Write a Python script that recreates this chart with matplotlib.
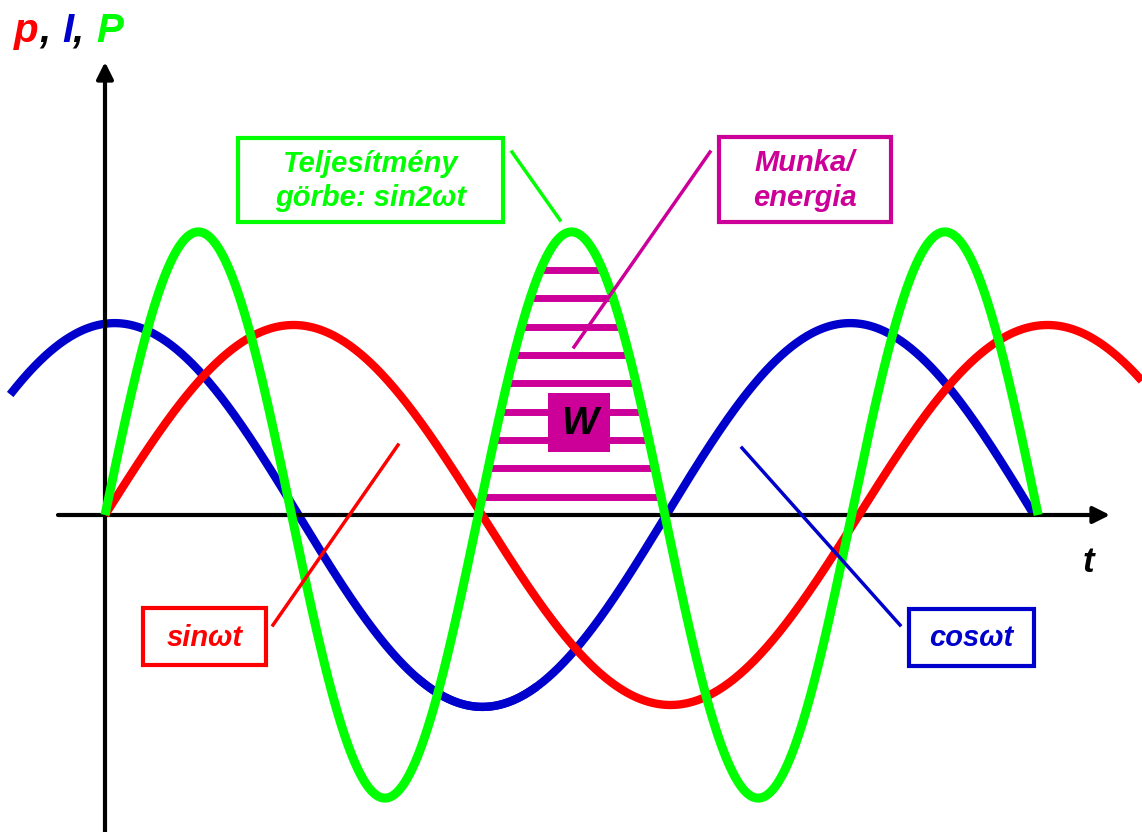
import numpy as np
import matplotlib
matplotlib.use("Agg")
from matplotlib import pyplot as plt
from matplotlib.patches import Rectangle

# figure size in pixels
W, H = 1142, 832

# curve parameters (omega*t in radians, amplitude units)
red_amp = 1.0
blue_amp = 1.01
blue_freq = 1.025
blue_phase = 0.08
green_amp = 1.49
green_freq = 2.02

red_range = (0.0, 8.64)
blue_range = (-0.79, 7.74)
green_range = (0.0, 5 * np.pi / green_freq)

# levels of the magenta "work" stripes
stripe_levels = [0.096, 0.247, 0.395, 0.544, 0.695, 0.842, 0.991, 1.14, 1.289]

RED = "#ff0000"
BLUE = "#0000cc"
GREEN = "#00ff00"
MAGENTA = "#cc0099"
FONT = dict(family="Liberation Sans", weight="bold", style="italic")

# pixel -> data scale
PX_X = 120.0
PX_Y = 190.0
X0, Y0 = 105, 515


def fx(x):
    return x / W


def fy(y):
    return 1 - y / H


def dx(x):
    return (x - X0) / PX_X


def dy(y):
    return (Y0 - y) / PX_Y


fig = plt.figure(figsize=(W / 100, H / 100), dpi=100)
ax = fig.add_axes([0, 0, 1, 1])
ax.set_xlim(dx(0), dx(W))
ax.set_ylim(dy(H), dy(0))
ax.axis("off")

t_red = np.linspace(*red_range, 800)
t_blue = np.linspace(*blue_range, 800)
t_green = np.linspace(*green_range, 1200)

lw = 6
ax.plot(t_blue, blue_amp * np.cos(blue_freq * (t_blue - blue_phase)), color=BLUE, lw=lw,
        solid_capstyle="butt", zorder=3)
ax.plot(t_red, red_amp * np.sin(t_red), color=RED, lw=lw, solid_capstyle="butt", zorder=5)
# blue trough lies above red there
t_mid = np.linspace(2.6, 3.6, 200)
ax.plot(t_mid, blue_amp * np.cos(blue_freq * (t_mid - blue_phase)), color=BLUE, lw=lw,
        solid_capstyle="butt", zorder=5.5)
ax.plot(t_green, green_amp * np.sin(green_freq * t_green), color=GREEN, lw=6.5,
        solid_capstyle="butt", zorder=6)

# stripes inside the positive hump of the power curve
for lev in stripe_levels:
    a = np.arcsin(lev / green_amp)
    t_left = (2 * np.pi + a) / green_freq
    t_right = (3 * np.pi - a) / green_freq
    ax.plot([t_left, t_right], [lev, lev], color=MAGENTA, lw=5, solid_capstyle="butt", zorder=2)

# W box
ax.add_patch(Rectangle((fx(548), fy(452)), 62 / W, 59 / H, transform=fig.transFigure,
                       facecolor=MAGENTA, edgecolor="none", zorder=2.5))
fig.text(fx(580), fy(424), "W", color="black", fontsize=28, ha="center", va="center",
         zorder=8, **FONT)

# axes with arrows
arrow = dict(arrowstyle="-|>", lw=3, color="black", mutation_scale=25, shrinkA=0, shrinkB=0)
ax.annotate("", xy=(dx(1110), 0), xytext=(dx(58), 0), arrowprops=arrow, zorder=4)
ax.annotate("", xy=(0, dy(62)), xytext=(0, dy(H + 5)), arrowprops=arrow, zorder=4)

# axis titles
fig.text(fx(1083), fy(572), "t", color="black", fontsize=25, ha="left", va="baseline", **FONT)
for x, s, c in [(14, "p", RED), (39, ",", "black"), (62, "I", BLUE), (72, ",", "black"),
                (96, "P", GREEN)]:
    fig.text(fx(x), fy(42), s, color=c, fontsize=29, ha="left", va="baseline", **FONT)


def label_box(x0, y0, x1, y1, text, color, line):
    ax.add_patch(Rectangle((fx(x0), fy(y1)), (x1 - x0) / W, (y1 - y0) / H,
                           transform=fig.transFigure, facecolor="white", edgecolor=color,
                           lw=3, zorder=7, clip_on=False))
    fig.text(fx((x0 + x1) / 2), fy((y0 + y1) / 2 + 1), text, color=color, fontsize=21,
             ha="center", va="center", linespacing=1.3, zorder=8, **FONT)
    (ax_, ay_), (bx_, by_) = line
    ax.plot([fx(ax_), fx(bx_)], [fy(ay_), fy(by_)], color=color, lw=2.5,
            transform=fig.transFigure, clip_on=False, zorder=7)


label_box(238, 138, 503, 222, "Teljesítmény\ngörbe: sin2ωt", GREEN, ((512, 152), (560, 220)))
label_box(719, 137, 891, 222, "Munka/\nenergia", MAGENTA, ((710, 152), (574, 347)))
label_box(143, 608, 266, 665, "sinωt", RED, ((273, 625), (398, 445)))
label_box(909, 609, 1034, 666, "cosωt", BLUE, ((742, 448), (900, 625)))

fig.savefig("out.png", dpi=100, facecolor="white")
